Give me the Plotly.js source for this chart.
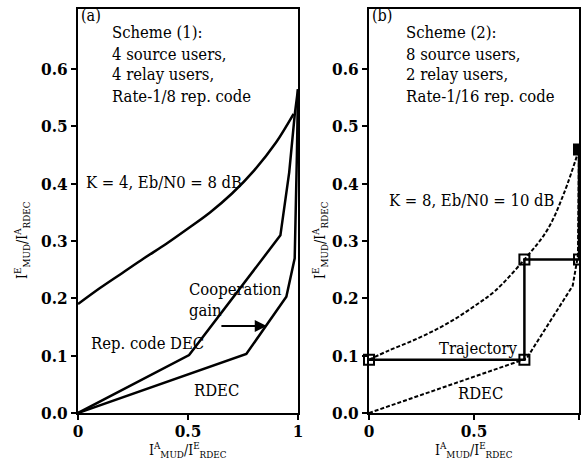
<!DOCTYPE html>
<html>
<head>
<meta charset="utf-8">
<script src="https://cdn.plot.ly/plotly-3.0.1.min.js"></script>
<style>html,body{margin:0;padding:0;background:#fff;}#chart{width:581px;height:463px;}</style>
</head>
<body>
<div id="chart"></div>
<script>
// Panel (a): Scheme (1)
const mudA_x = [0, 0.1, 0.2, 0.3, 0.4, 0.5, 0.6, 0.7, 0.8, 0.9, 0.98];
const mudA_y = [0.19, 0.218, 0.244, 0.27, 0.295, 0.322, 0.35, 0.383, 0.423, 0.472, 0.522];
const repA_x = [0, 0.505, 0.92, 0.96, 0.985, 1.0];
const repA_y = [0, 0.101, 0.31, 0.42, 0.52, 0.565];
const rdecA_x = [0, 0.765, 0.947, 0.985, 0.995, 1.0];
const rdecA_y = [0, 0.103, 0.203, 0.27, 0.45, 0.565];
// Panel (b): Scheme (2)
const mudB_x = [0, 0.1, 0.2, 0.3, 0.4, 0.5, 0.6, 0.74, 0.85, 0.93, 1.0];
const mudB_y = [0.093, 0.11, 0.125, 0.142, 0.162, 0.186, 0.213, 0.268, 0.32, 0.385, 0.46];
const rdecB_x = [0, 0.75, 0.97, 0.995, 1.0];
const rdecB_y = [0, 0.095, 0.222, 0.275, 0.46];
const trajB_x = [0, 0.74, 0.74, 1.0, 1.0];
const trajB_y = [0.093, 0.093, 0.268, 0.268, 0.46];
// Ticks
const yTicks = [0, 0.1, 0.2, 0.3, 0.4, 0.5, 0.6];
const yTickText = ["0.0", "0.1", "0.2", "0.3", "0.4", "0.5", "0.6"];
const xTicks = [0, 0.5, 1];
const xTickText = ["0", "0.5", "1"];

const FONT = "DejaVu Serif Condensed, DejaVu Serif";
const solid = {color: "black", width: 2.5};
const dashed = {color: "black", width: 2, dash: "4px,2px"};

const traces = [
  {x: mudA_x, y: mudA_y, mode: "lines", line: Object.assign({shape: "spline"}, solid), xaxis: "x", yaxis: "y"},
  {x: repA_x, y: repA_y, mode: "lines", line: solid, xaxis: "x", yaxis: "y"},
  {x: rdecA_x, y: rdecA_y, mode: "lines", line: solid, xaxis: "x", yaxis: "y"},
  {x: mudB_x, y: mudB_y, mode: "lines", line: Object.assign({shape: "spline"}, dashed), xaxis: "x2", yaxis: "y2"},
  {x: rdecB_x, y: rdecB_y, mode: "lines", line: dashed, xaxis: "x2", yaxis: "y2"},
  {x: trajB_x, y: trajB_y, mode: "lines+markers", line: {color: "black", width: 2.5},
   marker: {symbol: ["square-open","square-open","square-open","square-open","square"], size: 10, color: "black", line: {color: "black", width: 2}},
   xaxis: "x2", yaxis: "y2", cliponaxis: false}
];

const axBase = {
  showline: true, linecolor: "black", linewidth: 2, mirror: true,
  ticks: "outside", ticklen: 5, tickwidth: 2, tickcolor: "black",
  showgrid: false, zeroline: false,
  tickfont: {family: FONT, size: 17, color: "black", weight: "bold"}
};
const W = 581, H = 463;
const px = v => v / W, py = v => 1 - v / H;

function ann(text, xref, yref, x, y, opts) {
  return Object.assign({text: text, xref: xref, yref: yref, x: x, y: y, showarrow: false,
    xanchor: "left", yanchor: "middle", font: {family: FONT, size: 16.5, color: "black"}}, opts || {});
}
const titleText = (a, b) => "I<sup>" + a + "</sup><sub>MUD</sub>/I<sup>" + b + "</sup><sub>RDEC</sub>";
const tFont = {family: FONT, size: 14, color: "black"};
const lblFont = {font: {family: FONT, size: 16, color: "black"}};

const annotations = [
  ann("(a)", "paper", "paper", px(79), py(16), lblFont),
  ann("Scheme (1):", "paper", "paper", px(110), py(33)),
  ann("4 source users,", "paper", "paper", px(110), py(54)),
  ann("4 relay users,", "paper", "paper", px(110), py(75)),
  ann("Rate-1/8 rep. code", "paper", "paper", px(110), py(96)),
  ann("K = 4, Eb/N0 = 8 dB", "paper", "paper", px(84), py(182)),
  ann("Cooperation", "paper", "paper", px(187), py(289)),
  ann("gain", "paper", "paper", px(187), py(310)),
  ann("Rep. code DEC", "paper", "paper", px(89), py(343)),
  ann("RDEC", "paper", "paper", px(192), py(390)),
  ann("(b)", "paper", "paper", px(370), py(16), lblFont),
  ann("Scheme (2):", "paper", "paper", px(404), py(33)),
  ann("8 source users,", "paper", "paper", px(404), py(54)),
  ann("2 relay users,", "paper", "paper", px(404), py(75)),
  ann("Rate-1/16 rep. code", "paper", "paper", px(404), py(96)),
  ann("K = 8, Eb/N0 = 10 dB", "paper", "paper", px(387), py(200)),
  ann("Trajectory", "paper", "paper", px(437), py(348)),
  ann("RDEC", "paper", "paper", px(456), py(393)),
  {xref: "x", yref: "y", x: 0.858, y: 0.152, axref: "x", ayref: "y", ax: 0.645, ay: 0.152,
   showarrow: true, arrowhead: 2, arrowsize: 1.2, arrowwidth: 2, arrowcolor: "black", text: ""},
  ann(titleText("A", "E"), "paper", "paper", px(188), py(450), {xanchor: "center", font: tFont}),
  ann(titleText("A", "E"), "paper", "paper", px(474), py(450), {xanchor: "center", font: tFont}),
  ann(titleText("E", "A"), "paper", "paper", px(22), py(240), {xanchor: "center", textangle: -90, font: tFont}),
  ann(titleText("E", "A"), "paper", "paper", px(320), py(240), {xanchor: "center", textangle: -90, font: tFont})
];

const xExtra = {range: [0, 1], tickvals: xTicks, ticktext: xTickText, ticklabelstandoff: -3};
const yExtra = {domain: [py(413), py(9)], range: [0, 0.705], tickvals: yTicks, ticktext: yTickText};

const layout = {
  width: W, height: H,
  margin: {l: 0, r: 0, t: 0, b: 0},
  paper_bgcolor: "white", plot_bgcolor: "white",
  showlegend: false,
  font: {family: FONT, color: "black"},
  xaxis: Object.assign({}, axBase, xExtra, {domain: [px(78), px(298)], anchor: "y"}),
  yaxis: Object.assign({}, axBase, yExtra, {anchor: "x"}),
  xaxis2: Object.assign({}, axBase, xExtra, {domain: [px(369), px(579)], anchor: "y2"}),
  yaxis2: Object.assign({}, axBase, yExtra, {anchor: "x2"}),
  annotations: annotations
};

Plotly.newPlot("chart", traces, layout, {staticPlot: true, displayModeBar: false});
</script>
</body>
</html>
